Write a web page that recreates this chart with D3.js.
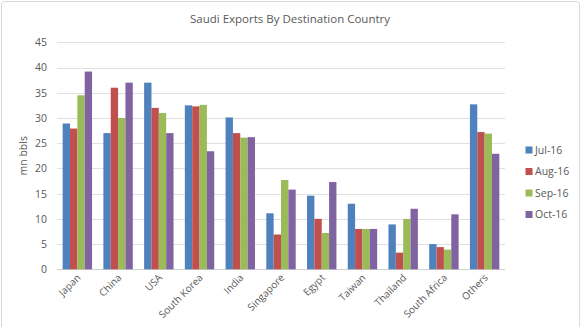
<!DOCTYPE html>
<html><head><meta charset="utf-8">
<script src="https://cdn.jsdelivr.net/npm/d3@7"></script>
<style>body{margin:0;background:#fff;font-family:"Open Sans",sans-serif;}</style>
</head><body><svg id="c" width="582" height="327"></svg>
<script>
const categories = ["Japan","China","USA","South Korea","India","Singapore","Egypt","Taiwan","Thailand","South Africa","Others"];
const seriesNames = ["Jul-16","Aug-16","Sep-16","Oct-16"];
const jul16 = [28.9,27.0,37.0,32.5,30.1,11.1,14.6,13.0,8.9,5.0,32.7];
const aug16 = [27.9,36.0,32.0,32.3,27.0,6.9,10.0,8.0,3.3,4.4,27.2];
const sep16 = [34.5,30.0,31.0,32.6,26.1,17.7,7.2,8.0,10.0,3.9,26.9];
const oct16 = [39.2,37.0,27.0,23.4,26.2,15.8,17.3,8.0,12.0,10.9,22.9];
const yTicks = [0,5,10,15,20,25,30,35,40,45];
const colors = ["#4F81BD","#C0504D","#9BBB59","#8064A2"];
const seriesValues = [jul16,aug16,sep16,oct16];

const svg = d3.select("#c");
const font = "'Open Sans', sans-serif";
// border
svg.append("rect").attr("x",1.5).attr("y",1.5).attr("width",578).attr("height",330)
  .attr("rx",3).attr("fill","#fff").attr("stroke","#d9d9d9");

const pLeft = 57, pRight = 505, pTop = 42.3, pBottom = 269.3;
const x = d3.scaleBand().domain(categories).range([pLeft,pRight]).paddingInner(0.278).paddingOuter(0.139);
const xs = d3.scaleBand().domain(seriesNames).range([0,x.bandwidth()]);
const y = d3.scaleLinear().domain([0,45]).range([pBottom,pTop]);

// gridlines
svg.append("g").selectAll("line").data(yTicks).join("line")
  .attr("x1",pLeft).attr("x2",pRight).attr("y1",d=>Math.round(y(d))+0.5).attr("y2",d=>Math.round(y(d))+0.5)
  .attr("stroke",d=>d===0?"#d0d0d0":"#e0e0e0").attr("stroke-width",1);

// y axis labels
const yAxis = d3.axisLeft(y).tickValues(yTicks).tickSize(0).tickPadding(10);
const ga = svg.append("g").attr("transform",`translate(${pLeft},0)`).call(yAxis);
ga.select(".domain").remove();
ga.selectAll("text").attr("font-family",font).attr("font-size",10.5).attr("fill","#595959");

// bars
const g = svg.append("g");
seriesNames.forEach((s,si)=>{
  g.append("g").attr("fill",colors[si]).selectAll("rect").data(seriesValues[si]).join("rect")
    .attr("x",(d,i)=>x(categories[i])+xs(s))
    .attr("width",xs.bandwidth())
    .attr("y",d=>y(d))
    .attr("height",d=>y(0)-y(d));
});

// x labels
const xAxis = d3.axisBottom(x).tickSize(0).tickPadding(0);
const gx = svg.append("g").attr("transform",`translate(0,${pBottom})`).call(xAxis);
gx.select(".domain").remove();
gx.selectAll("text").attr("font-family",font).attr("font-size",10).attr("fill","#595959")
  .attr("text-anchor","end").attr("dy",0)
  .attr("transform","translate(4,9) rotate(-45)");

// title
svg.append("text").attr("x",290).attr("y",22.5).attr("text-anchor","middle")
  .attr("font-family",font).attr("font-size",11.5).attr("fill","#595959")
  .text("Saudi Exports By Destination Country");

// y title
svg.append("text").attr("transform",`translate(27,${(pTop+pBottom)/2}) rotate(-90)`)
  .attr("text-anchor","middle").attr("font-family",font).attr("font-size",10.5).attr("fill","#595959")
  .text("mn bbls");

// legend
const lg = svg.append("g");
seriesNames.forEach((s,i)=>{
  const cy = 150 + i*21.5;
  lg.append("rect").attr("x",525.5).attr("y",cy-3.5).attr("width",7).attr("height",7).attr("fill",colors[i]);
  lg.append("text").attr("x",535).attr("y",cy).attr("dy","0.35em")
    .attr("font-family",font).attr("font-size",10.5).attr("fill","#595959").text(s);
});
</script></body></html>
